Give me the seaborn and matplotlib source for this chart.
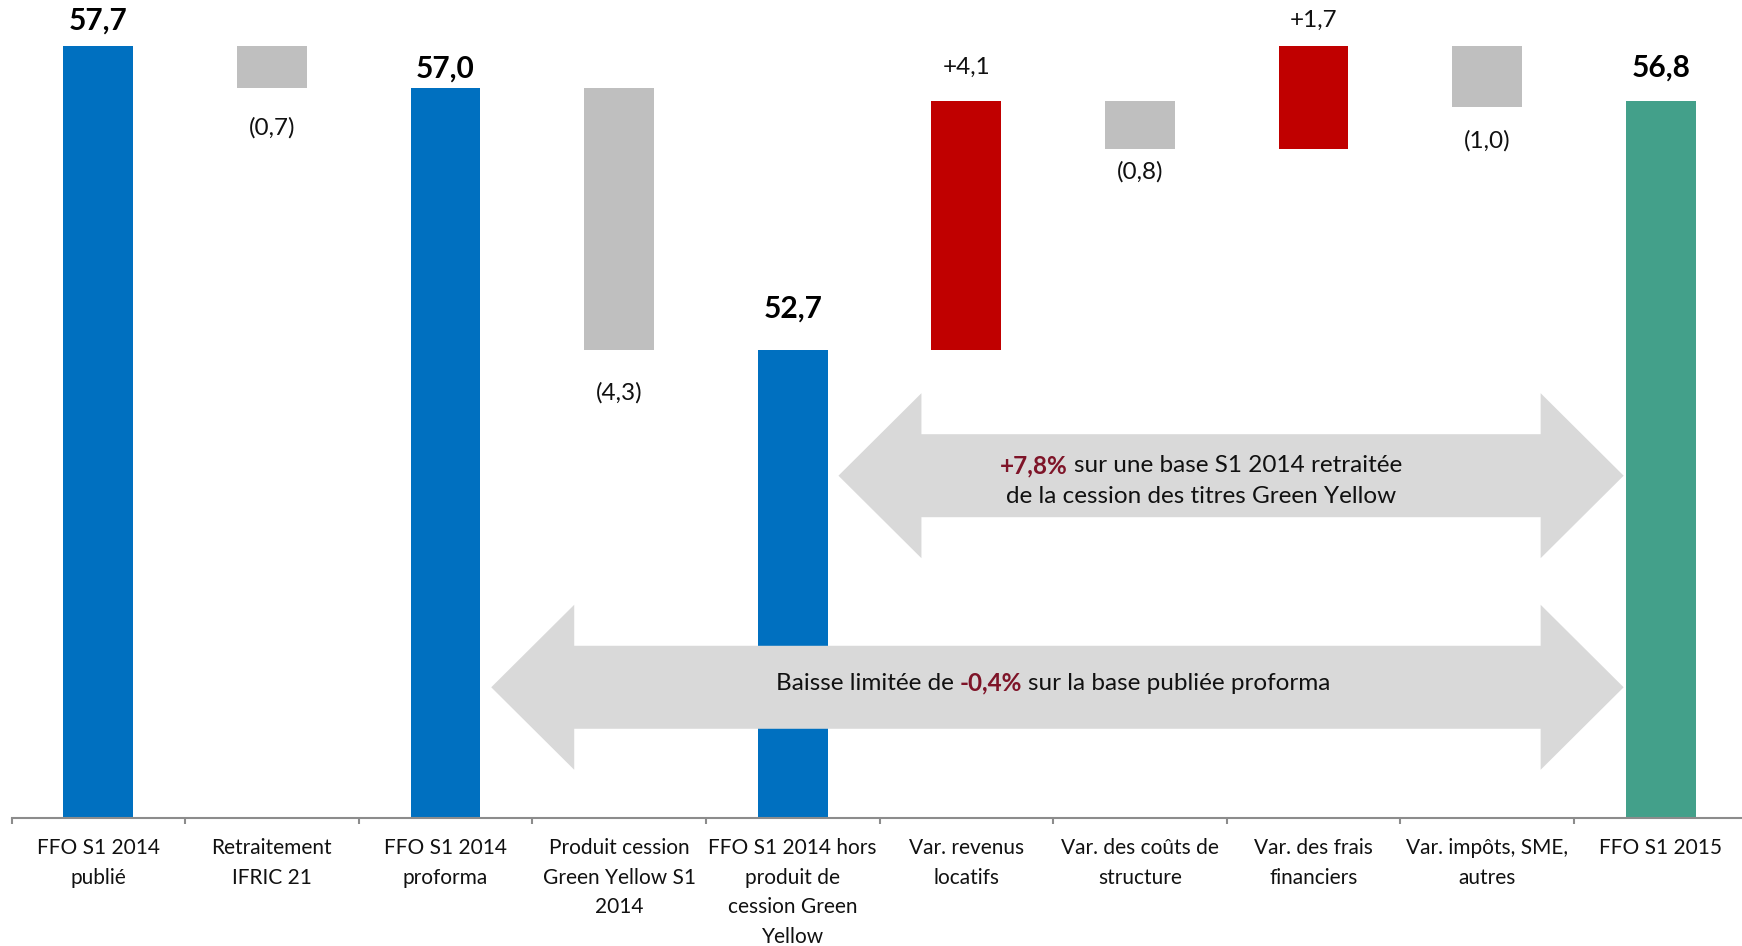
import numpy as np
import pandas as pd
import matplotlib
matplotlib.use("Agg")
import matplotlib.pyplot as plt
from matplotlib.patches import Polygon
from matplotlib.transforms import offset_copy
import seaborn as sns

# ---- data -------------------------------------------------------------
categories = [
    "FFO S1 2014\npublié",
    "Retraitement\nIFRIC 21",
    "FFO S1 2014\nproforma",
    "Produit cession\nGreen Yellow S1\n2014",
    "FFO S1 2014 hors\nproduit de\ncession Green\nYellow",
    "Var. revenus\nlocatifs",
    "Var. des coûts de\nstructure",
    "Var. des frais\nfinanciers",
    "Var. impôts, SME,\nautres",
    "FFO S1 2015",
]
values = [57.7, -0.7, 57.0, -4.3, 52.7, 4.1, -0.8, 1.7, -1.0, 56.8]
kinds = ["total", "delta", "total", "delta", "total",
         "delta", "delta", "delta", "delta", "total"]

arrow_upper_text = [("+7,8%", "pct"), ("sur une base S1 2014 retraitée", "txt")]
arrow_upper_text2 = "de la cession des titres Green Yellow"
arrow_lower_text = [("Baisse limitée de", "txt"), ("-0,4%", "pct"),
                    ("sur la base publiée proforma", "txt")]

# ---- style ------------------------------------------------------------
BLUE = "#0070C0"
GREEN = "#43A08A"
RED = "#C00000"
GREY = "#BFBFBF"
ARROW_GREY = "#D9D9D9"
AXIS_GREY = "#8C8C8C"
PCT_RED = "#7E1428"
TEXT = "#111111"

W, H = 1742, 946
DPI = 100
BAR_W = 0.403
VALUE_FS = 17.5
TOTAL_FS = 21.5
TICK_FS = 15
NOTE_FS = 17.5
# vertical distance (pixels) between each value label and its bar edge
label_offsets = [25, 39, 20, 43, 41, 33, 23, 25, 34, 33]

sns.set_theme(style="white")
plt.rcParams["font.family"] = ["Lato", "DejaVu Sans"]

fig = plt.figure(figsize=(W / DPI, H / DPI), dpi=DPI)
base_px = 818
ax = fig.add_axes([11.5 / W, (H - base_px) / H, 1736.0 / W, base_px / H])

# ---- waterfall geometry ----------------------------------------------
bottoms, heights, colors = [], [], []
level = 0.0
for i, (v, k) in enumerate(zip(values, kinds)):
    if k == "total":
        bottoms.append(0.0)
        heights.append(v)
        colors.append(GREEN if i == len(values) - 1 else BLUE)
        level = v
    else:
        new = level + v
        bottoms.append(min(level, new))
        heights.append(abs(v))
        colors.append(RED if v > 0 else GREY)
        level = new

df = pd.DataFrame({"categorie": categories, "hauteur": heights})
sns.barplot(data=df, x="categorie", y="hauteur", bottom=bottoms,
            width=BAR_W, color=BLUE, saturation=1, errorbar=None,
            ax=ax, zorder=2)
for patch, c in zip(ax.patches, colors):
    patch.set_facecolor(c)
    patch.set_edgecolor(c)
    patch.set_linewidth(0)

ymin = 45.0
px_per_unit = 60.8
ax.set_ylim(ymin, ymin + base_px / px_per_unit)
ax.set_xlim(-0.5, len(values) - 0.5)

# ---- value labels ----------------------------------------------------
def fmt(v):
    return f"{abs(v):.1f}".replace(".", ",")

for i, (v, k) in enumerate(zip(values, kinds)):
    top = bottoms[i] + heights[i]
    off = label_offsets[i]
    if k == "total":
        ax.annotate(fmt(v), (i, top), xytext=(0, off), textcoords="offset pixels",
                    ha="center", va="center", fontsize=TOTAL_FS, fontweight="bold",
                    color="black", annotation_clip=False)
    elif v > 0:
        ax.annotate("+" + fmt(v), (i, top), xytext=(0, off), textcoords="offset pixels",
                    ha="center", va="center", fontsize=VALUE_FS, color=TEXT,
                    annotation_clip=False)
    else:
        ax.annotate("(" + fmt(v) + ")", (i, bottoms[i]), xytext=(0, -off),
                    textcoords="offset pixels", ha="center", va="center",
                    fontsize=VALUE_FS, color=TEXT, annotation_clip=False)

# ---- axes decoration ---------------------------------------------------
for side in ["left", "right", "top"]:
    ax.spines[side].set_visible(False)
ax.spines["bottom"].set_color(AXIS_GREY)
ax.spines["bottom"].set_linewidth(1.5)
ax.set_yticks([])
ax.set_xlabel("")
ax.set_ylabel("")
ax.set_xticks(range(len(categories)))
ax.set_xticklabels(categories, fontsize=TICK_FS, color=TEXT, linespacing=1.6)
ax.set_xticks(np.arange(-0.5, len(categories), 1.0), minor=True)
ax.tick_params(axis="x", which="major", length=0, pad=14.5)
ax.tick_params(axis="x", which="minor", length=4.5, width=1.5,
               color=AXIS_GREY, direction="out", bottom=True)

# ---- comparison arrows -----------------------------------------------
def double_arrow(x0, x1, yc, shaft_half, head_half, head_len):
    pts = [(x0, yc), (x0 + head_len, yc + head_half), (x0 + head_len, yc + shaft_half),
           (x1 - head_len, yc + shaft_half), (x1 - head_len, yc + head_half), (x1, yc),
           (x1 - head_len, yc - head_half), (x1 - head_len, yc - shaft_half),
           (x0 + head_len, yc - shaft_half), (x0 + head_len, yc - head_half)]
    ax.add_patch(Polygon(pts, closed=True, facecolor=ARROW_GREY, edgecolor="none",
                         zorder=3, clip_on=False))

gap = 0.062
head_half = 82.5 / px_per_unit
shaft_half = 41.5 / px_per_unit
head_len = 0.478
last = len(values) - 1
double_arrow(4 + BAR_W / 2 + gap, last - BAR_W / 2 - 0.012, 50.63,
             shaft_half, head_half, head_len)
double_arrow(2 + BAR_W / 2 + gap, last - BAR_W / 2 - 0.012, 47.15,
             shaft_half, head_half, head_len)

# ---- arrow captions with coloured percentages ------------------------
fig.canvas.draw()
renderer = fig.canvas.get_renderer()

def space_width(size):
    a = ax.text(0, 0, "x x", fontsize=size)
    b = ax.text(0, 0, "xx", fontsize=size)
    w = a.get_window_extent(renderer).width - b.get_window_extent(renderer).width
    a.remove()
    b.remove()
    return w

def rich_line(x, y, parts, size=NOTE_FS):
    objs = []
    for s, role in parts:
        t = ax.text(x, y, s, fontsize=size, ha="left", va="center", zorder=4,
                    color=PCT_RED if role == "pct" else TEXT,
                    fontweight="bold" if role == "pct" else "normal")
        objs.append(t)
    widths = [t.get_window_extent(renderer).width for t in objs]
    sp = space_width(size)
    total = sum(widths) + sp * (len(objs) - 1)
    cursor = -total / 2
    for t, w in zip(objs, widths):
        t.set_transform(offset_copy(ax.transData, fig=fig, x=cursor, y=0, units="dots"))
        cursor += w + sp

rich_line(6.35, 50.79, arrow_upper_text)
ax.text(6.35, 50.28, arrow_upper_text2, fontsize=NOTE_FS, ha="center", va="center",
        color=TEXT, zorder=4)
rich_line(5.5, 47.22, arrow_lower_text)

fig.savefig("out.png", dpi=DPI)
